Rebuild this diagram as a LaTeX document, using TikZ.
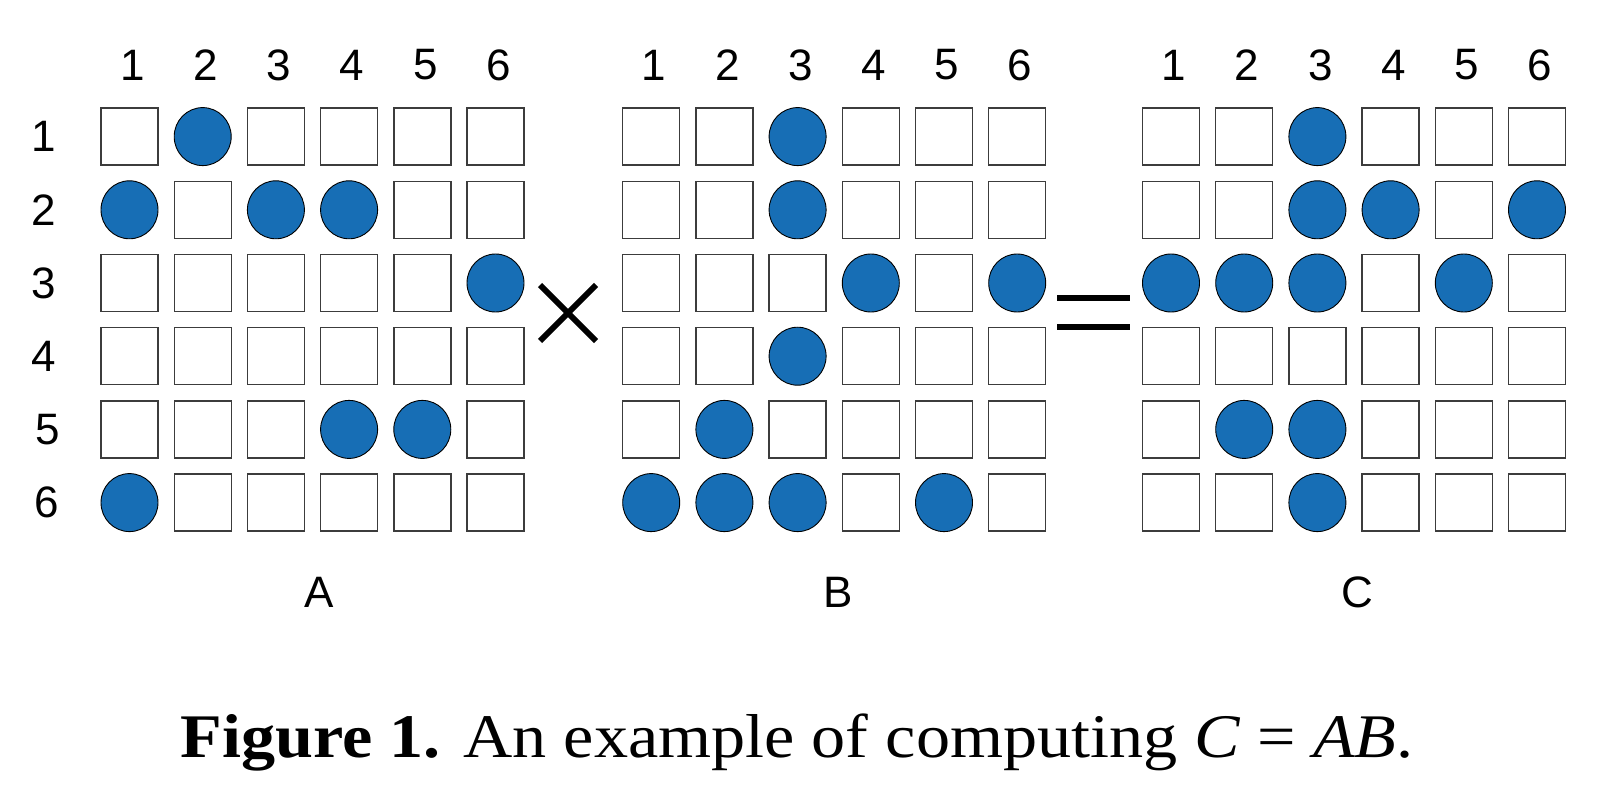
\documentclass[tikz,border=0pt]{standalone}
\usepackage{fontspec}
\usetikzlibrary{shapes.geometric}
\setmainfont{Liberation Sans}
\newfontfamily\capfont{Liberation Serif}
\definecolor{dotblue}{RGB}{23,110,181}
\definecolor{cellgray}{RGB}{60,60,60}
\begin{document}
\begin{tikzpicture}[x=1pt,y=-1pt,
  cellbox/.style={draw=cellgray,line width=1.4pt,fill=white,minimum width=57pt,minimum height=57pt,inner sep=0pt,outer sep=0pt},
  dotnode/.style={draw=black,line width=0.9pt,fill=dotblue,ellipse,minimum width=57pt,minimum height=58pt,inner sep=0pt},
  lab/.style={font=\fontsize{44}{48}\selectfont,inner sep=0pt},
  opline/.style={line width=6pt}]
\useasboundingbox (0,0) rectangle (1604,802);
\fill[white] (0,0) rectangle (1604,802);
\def\pitch{73.2}
\def\rowzero{136.6}
% which cells hold a dot
\foreach \p in {A-1-2,A-2-1,A-2-3,A-2-4,A-3-6,A-5-4,A-5-5,A-6-1,
                B-1-3,B-2-3,B-3-4,B-3-6,B-4-3,B-5-2,B-6-1,B-6-2,B-6-3,B-6-5,
                C-1-3,C-2-3,C-2-4,C-2-6,C-3-1,C-3-2,C-3-3,C-3-5,C-5-2,C-5-3,C-6-3}{
  \expandafter\gdef\csname isdot@\p\endcsname{}
}
% cells and dots
\foreach \m/\xo in {A/129.5,B/651.2,C/1171}{
  \foreach \r in {1,...,6}{
    \foreach \c in {1,...,6}{
      \ifcsname isdot@\m-\r-\c\endcsname
        \node[dotnode] (\m-\r-\c) at ({\xo+(\c-1)*\pitch},{\rowzero+(\r-1)*\pitch}) {};
      \else
        \node[cellbox] (\m-\r-\c) at ({\xo+(\c-1)*\pitch},{\rowzero+(\r-1)*\pitch}) {};
      \fi
    }
  }
  \foreach \c in {1,...,6}{
    \node[lab] (\m-col\c) at ({\xo+(\c-1)*\pitch+3},65) {\c};
  }
}
% row labels
\foreach \r/\dx in {1/44,2/44,3/44,4/44,5/48,6/47}{
  \node[lab] (row\r) at (\dx,{\rowzero+(\r-1)*\pitch}) {\r};
}
% matrix names
\node[lab] (nameA) at (319,592) {A};
\node[lab] (nameB) at (838,592) {B};
\node[lab] (nameC) at (1357,592) {C};
% times sign
\coordinate (tc) at (568,313);
\draw[opline] ([shift={(-28,-28)}]tc) -- ([shift={(28,28)}]tc);
\draw[opline] ([shift={(-28,28)}]tc) -- ([shift={(28,-28)}]tc);
% equals sign
\coordinate (e1) at (1057,298);
\coordinate (e2) at (1130,298);
\coordinate (e3) at (1057,327);
\coordinate (e4) at (1130,327);
\draw[opline] (e1) -- (e2);
\draw[opline] (e3) -- (e4);
% caption
\node[inner sep=0pt,anchor=base] (cap) at (797,757) {\scalebox{1.1}[1]{\capfont\fontsize{62}{70}\selectfont\textbf{Figure 1.} An example of computing \textit{C} = \textit{AB}.}};
\end{tikzpicture}
\end{document}
